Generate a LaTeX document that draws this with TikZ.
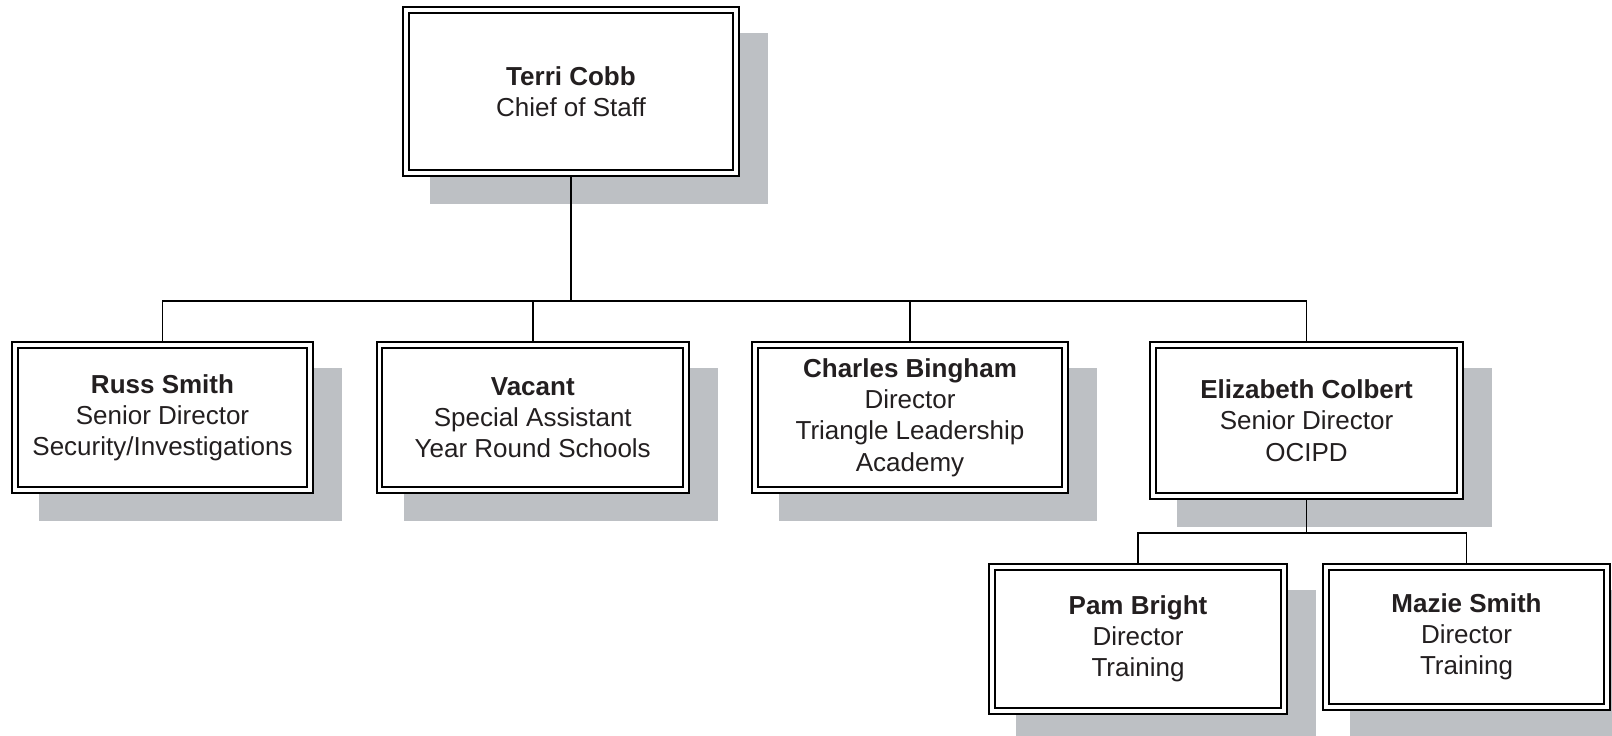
\documentclass[tikz,border=0pt]{standalone}
\usepackage{fontspec}
\setmainfont{Liberation Sans}
\pgfdeclarelayer{shadowlayer}
\pgfsetlayers{shadowlayer,main}
\definecolor{shadowgray}{RGB}{189,192,196}
\definecolor{inkc}{RGB}{35,31,32}
\tikzset{
  person/.style={rectangle, draw=black, line width=1pt, double=white,
    double distance=1.8pt, fill=white, inner sep=0pt, outer sep=1.9pt,
    align=center, text=inkc, font=\fontsize{13pt}{15.6pt}\selectfont},
  boxsize/.style 2 args={minimum width={#1*0.5pt-2.8pt}, minimum height={#2*0.5pt-2.8pt}},
  link/.style={draw=black, line width=0.85pt},
  trunk/.style={draw=black, line width=1.4pt},
  dropshade/.style={fill=shadowgray}
}
\begin{document}
\begin{tikzpicture}[x=0.5pt, y=-0.5pt]
\useasboundingbox (0,0) rectangle (1612,735);

% people
\node[person, boxsize={336}{169}] (terri) at (571,91.5) {\textbf{Terri Cobb}\\Chief of Staff};
\node[person, boxsize={301}{151}] (russ) at (162.5,417.5) {\textbf{Russ Smith}\\Senior Director\\Security/Investigations};
\node[person, boxsize={312.5}{151}] (vacant) at (532.75,417.5) {\textbf{Vacant}\\Special Assistant\\Year Round Schools};
\node[person, boxsize={316}{151}] (charles) at (910,417.5) {\textbf{Charles Bingham}\\Director\\Triangle Leadership\\Academy};
\node[person, boxsize={313}{157}] (eliz) at (1306.5,420.5) {\textbf{Elizabeth Colbert}\\Senior Director\\OCIPD};
\node[person, boxsize={298}{150}] (pam) at (1138,639) {\textbf{Pam Bright}\\Director\\Training};
\node[person, boxsize={287}{146}] (mazie) at (1466.5,637) {\textbf{Mazie Smith}\\Director\\Training};

% drop shadows behind every box
\begin{pgfonlayer}{shadowlayer}
\foreach \n in {terri,russ,vacant,charles,eliz,pam,mazie}
  \fill[dropshade] ([shift={(28,27)}]\n.north west) rectangle ([shift={(28,27)}]\n.south east);
\end{pgfonlayer}

% reporting lines
\coordinate (bus) at (571,301);
\path (eliz.south) ++(0,33) coordinate (subbus);
\draw[trunk] (terri.south) -- (bus);
\foreach \n in {russ,vacant,charles,eliz}
  \draw[link] (\n.north) |- (bus);
\draw[link] (eliz.south) -- (subbus);
\foreach \n in {pam,mazie}
  \draw[link] (\n.north) |- (subbus);
\end{tikzpicture}
\end{document}
